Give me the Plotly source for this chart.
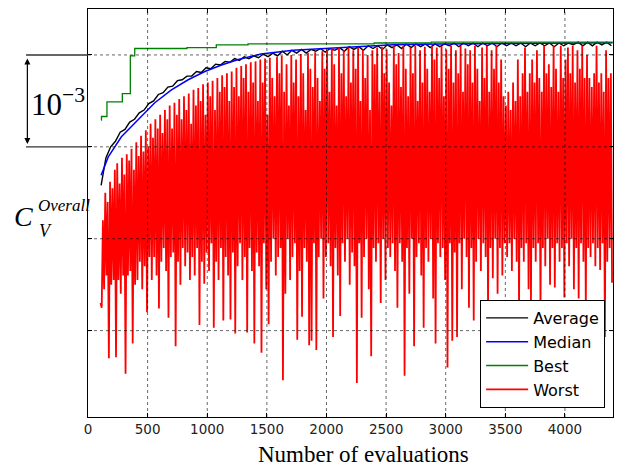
import plotly.graph_objects as go

# ---------------- data (C_V^Overall, in units of 1e-3) ----------------
x_ticks = [0, 500, 1000, 1500, 2000, 2500, 3000, 3500, 4000]
x_tick_labels = ["0", "500", "1000", "1500", "2000", "2500", "3000", "3500", "4000"]
y_grid = [996, 997, 998, 999]

median_x = [110, 170, 280, 420, 560, 700, 840, 980, 1120, 1260, 1400, 1450,
            1720, 2000, 2280, 2560, 2950, 3450, 3960, 4400]
median = [997.69, 997.89, 998.11, 998.29, 998.48, 998.62, 998.73, 998.82, 998.89,
          998.95, 998.99, 999.01, 999.05, 999.07, 999.09, 999.11, 999.12, 999.125,
          999.13, 999.133]

best_x = [110, 113, 159, 288, 355, 392, 830, 1076, 1342, 2400, 2880, 4400]
best = [998.29, 998.33, 998.49, 998.58, 998.99, 999.07, 999.08, 999.11, 999.12,
        999.13, 999.14, 999.14]

average_start, average_step = 110, 40
average = [
    997.58, 997.88, 998.00, 998.06, 998.16, 998.19, 998.27, 998.30, 998.37, 998.40,
    998.47, 998.50, 998.57, 998.59, 998.65, 998.66, 998.72, 998.73, 998.77, 998.77,
    998.82, 998.81, 998.86, 998.85, 998.90, 998.89, 998.93, 998.92, 998.96, 998.94,
    998.98, 998.96, 998.99, 998.97, 999.01, 998.98, 999.02, 998.99, 999.04, 999.00,
    999.05, 999.02, 999.06, 999.02, 999.06, 999.04, 999.07, 999.03, 999.07, 999.05,
    999.08, 999.04, 999.09, 999.06, 999.09, 999.05, 999.10, 999.07, 999.10, 999.06,
    999.11, 999.08, 999.11, 999.07, 999.12, 999.08, 999.12, 999.09, 999.12, 999.08,
    999.12, 999.09, 999.12, 999.10, 999.13, 999.09, 999.13, 999.10, 999.13, 999.09,
    999.13, 999.10, 999.13, 999.09, 999.13, 999.10, 999.13, 999.10, 999.13, 999.09,
    999.13, 999.10, 999.13, 999.10, 999.13, 999.09, 999.13, 999.10, 999.13, 999.11,
    999.14, 999.10, 999.14, 999.10, 999.14, 999.11, 999.14, 999.10,
]

worst_start, worst_step = 105, 10
worst = [
    996.30, 996.25, 997.20, 996.45, 997.50, 996.60, 997.40, 995.70, 997.62, 996.50,
    997.55, 996.55, 997.75, 995.71, 997.82, 996.55, 997.60, 996.40, 997.88, 996.60,
    997.70, 995.53, 997.92, 996.60, 997.85, 996.65, 997.98, 995.86, 997.75, 996.50,
    998.05, 996.55, 997.90, 996.75, 998.12, 996.45, 997.95, 996.70, 998.18, 996.20,
    998.00, 996.80, 998.25, 996.55, 998.10, 996.80, 998.30, 996.60, 998.20, 996.24,
    998.35, 996.75, 998.15, 996.90, 998.40, 996.65, 998.30, 996.14, 998.45, 996.80,
    998.20, 996.85, 998.48, 995.83, 998.35, 996.75, 998.52, 996.50, 998.30, 996.90,
    998.55, 996.70, 998.40, 996.85, 998.58, 996.55, 998.25, 996.80, 998.62, 996.60,
    998.45, 996.90, 998.64, 996.06, 998.50, 996.75, 998.68, 996.51, 998.35, 996.85,
    998.70, 996.65, 998.55, 996.95, 998.72, 996.03, 998.40, 996.75, 998.75, 996.55,
    998.60, 996.90, 998.78, 996.11, 998.65, 996.80, 998.80, 996.60, 998.50, 996.12,
    998.82, 996.85, 998.65, 995.97, 998.86, 996.70, 998.55, 996.95, 998.88, 996.55,
    998.75, 996.80, 998.90, 995.98, 998.60, 996.90, 998.92, 996.65, 998.70, 995.86,
    998.93, 996.85, 998.50, 996.70, 998.95, 995.76, 998.70, 996.95, 998.96, 996.45,
    998.35, 996.07, 998.97, 996.75, 998.75, 997.00, 998.55, 996.60, 998.98, 996.80,
    998.80, 996.90, 998.99, 995.46, 998.60, 996.40, 998.90, 997.00, 998.45, 996.55,
    999.00, 996.80, 998.70, 996.95, 998.95, 995.90, 998.55, 996.65, 999.01, 996.15,
    998.80, 996.90, 998.40, 996.75, 999.02, 995.84, 998.85, 995.89, 998.65, 996.95,
    999.03, 995.79, 998.75, 996.80, 998.50, 997.00, 999.04, 996.35, 998.85, 996.80,
    999.06, 996.95, 998.60, 996.70, 999.07, 995.93, 998.90, 996.90, 998.45, 996.60,
    999.08, 996.16, 998.80, 996.95, 999.05, 996.75, 998.55, 997.00, 999.08, 996.50,
    998.70, 996.85, 999.05, 996.70, 998.85, 995.43, 999.08, 996.95, 998.50, 996.14,
    999.06, 996.80, 998.75, 997.00, 999.00, 996.45, 998.40, 995.72, 999.05, 996.90,
    998.90, 996.75, 999.08, 996.95, 998.60, 996.30, 999.09, 997.00, 998.80, 996.55,
    999.06, 996.90, 998.70, 996.80, 998.45, 996.95, 999.10, 996.65, 998.90, 996.25,
    999.02, 996.95, 998.65, 996.75, 999.10, 995.51, 998.85, 996.90, 998.55, 996.40,
    999.08, 997.00, 998.80, 995.83, 999.10, 996.80, 998.50, 996.95, 999.05, 996.60,
    998.70, 996.03, 999.09, 996.90, 998.85, 996.75, 998.60, 997.00, 999.10, 996.35,
    998.95, 995.86, 999.08, 996.95, 998.75, 996.80, 999.10, 996.90, 998.55, 996.55,
    999.06, 995.60, 998.85, 996.95, 999.10, 995.89, 998.70, 996.85, 999.05, 995.93,
    998.80, 996.95, 999.10, 996.45, 998.60, 997.00, 999.07, 996.80, 998.90, 996.25,
    999.05, 996.90, 998.70, 996.11, 999.10, 996.75, 998.85, 997.00, 998.50, 996.65,
    999.08, 996.95, 998.75, 996.80, 999.10, 996.24, 998.60, 996.90, 999.05, 996.57,
    998.85, 997.00, 999.10, 996.40, 998.70, 996.90, 998.95, 996.60, 998.55, 996.95,
    998.45, 996.80, 998.60, 996.95, 998.40, 996.65, 998.70, 997.00, 998.50, 996.75,
    998.95, 996.25, 998.55, 996.90, 998.80, 996.75, 999.08, 996.95, 998.60, 996.45,
    998.80, 996.33, 998.95, 996.90, 998.70, 996.75, 999.05, 996.95, 998.75, 996.19,
    998.60, 996.90, 999.10, 996.70, 998.80, 997.00, 998.90, 996.50, 998.65, 996.90,
    999.10, 996.47, 998.85, 996.95, 998.60, 996.75, 999.10, 996.90, 998.75, 996.36,
    998.95, 996.95, 999.08, 996.70, 998.80, 997.00, 999.10, 996.45, 998.70, 996.90,
    999.05, 996.35, 998.85, 996.95, 999.10, 996.75, 998.75, 996.22, 999.00, 996.90,
    998.75, 996.80, 998.65, 996.95, 998.80, 996.70, 999.10, 996.90, 998.70, 996.66,
    998.80, 996.95, 998.60, 995.93, 999.05, 996.75, 998.75, 996.90, 998.80, 996.52,
]

# ---------------- figure ----------------
average_x = [average_start + average_step * k for k in range(len(average))]
worst_x = [worst_start + worst_step * k for k in range(len(worst))]

fig = go.Figure()
fig.add_trace(go.Scatter(x=average_x, y=average, mode="lines", name="Average",
                         line=dict(color="#000000", width=1.4)))
fig.add_trace(go.Scatter(x=median_x, y=median, mode="lines", name="Median",
                         line=dict(color="#0000ff", width=1.5)))
fig.add_trace(go.Scatter(x=best_x, y=best, mode="lines", name="Best",
                         line=dict(color="#008000", width=1.3, shape="hv")))
fig.add_trace(go.Scatter(x=worst_x, y=worst, mode="lines", name="Worst",
                         line=dict(color="#ff0000", width=1.8)))

grid_style = dict(color="rgba(0,0,0,0.6)", width=1, dash="dot")
shapes = []
for xv in x_ticks[1:]:
    shapes.append(dict(type="line", xref="x", yref="paper", x0=xv, x1=xv, y0=0, y1=1,
                       line=grid_style, layer="above"))
for yv in y_grid:
    shapes.append(dict(type="line", xref="paper", yref="y", x0=0, x1=1, y0=yv, y1=yv,
                       line=grid_style, layer="above"))
# decade marker lines on the left
for yv in [998, 999]:
    shapes.append(dict(type="line", xref="paper", yref="y", x0=-0.118, x1=0, y0=yv, y1=yv,
                       line=dict(color="#333333", width=1.4), layer="above"))

serif = "Liberation Serif"
annotations = [
    dict(xref="paper", yref="y", x=-0.1155, y=998.03, ax=0, ay=-87, axref="pixel",
         ayref="pixel", text="", showarrow=True, arrowhead=2, startarrowhead=2,
         arrowside="end+start", arrowsize=1, arrowwidth=1.2, arrowcolor="#000000"),
    dict(xref="paper", yref="paper", x=-0.1124, y=0.772, xanchor="left", yanchor="middle",
         text="10<sup>−3</sup>", showarrow=False, font=dict(family=serif, size=31, color="#000")),
    dict(xref="paper", yref="paper", x=-0.1229, y=0.4926, xanchor="center", yanchor="middle",
         text="<i>C</i>", showarrow=False, font=dict(family=serif, size=28, color="#000")),
    dict(xref="paper", yref="paper", x=-0.0971, y=0.4559, xanchor="left", yanchor="middle",
         text="<i>V</i>", showarrow=False, font=dict(family=serif, size=18, color="#000")),
    dict(xref="paper", yref="paper", x=-0.0990, y=0.5196, xanchor="left", yanchor="middle",
         text="<i>Overall</i>", showarrow=False, font=dict(family=serif, size=17, color="#000")),
    dict(xref="paper", yref="paper", x=0.524, y=-0.093, xanchor="center", yanchor="middle",
         text="Number of evaluations", showarrow=False,
         font=dict(family=serif, size=23, color="#000")),
]

fig.update_layout(
    width=617, height=471,
    margin=dict(l=88, r=4, t=9, b=54),
    paper_bgcolor="white", plot_bgcolor="white",
    showlegend=True,
    legend=dict(x=0.985, xanchor="right", y=0.022, yanchor="bottom",
                bordercolor="#000000", borderwidth=1, bgcolor="white", itemwidth=42,
                font=dict(family="DejaVu Sans", size=16, color="#000")),
    shapes=shapes, annotations=annotations,
    xaxis=dict(range=[0, 4403], tickmode="array", tickvals=x_ticks, ticktext=x_tick_labels,
               showgrid=False, zeroline=False, showline=True, linecolor="#000", linewidth=1,
               mirror="ticks", ticks="inside", ticklen=4, tickcolor="#000",
               tickfont=dict(family="DejaVu Sans", size=13.5, color="#222")),
    yaxis=dict(range=[995.06, 999.50], tickmode="array", tickvals=y_grid,
               showticklabels=False, showgrid=False, zeroline=False, showline=True,
               linecolor="#000", linewidth=1, mirror="ticks", ticks="inside", ticklen=4,
               tickcolor="#000"),
)

fig.write_html("out.html", config={"displayModeBar": False},
               post_script="document.body.style.margin='0';document.body.style.overflow='hidden';")
